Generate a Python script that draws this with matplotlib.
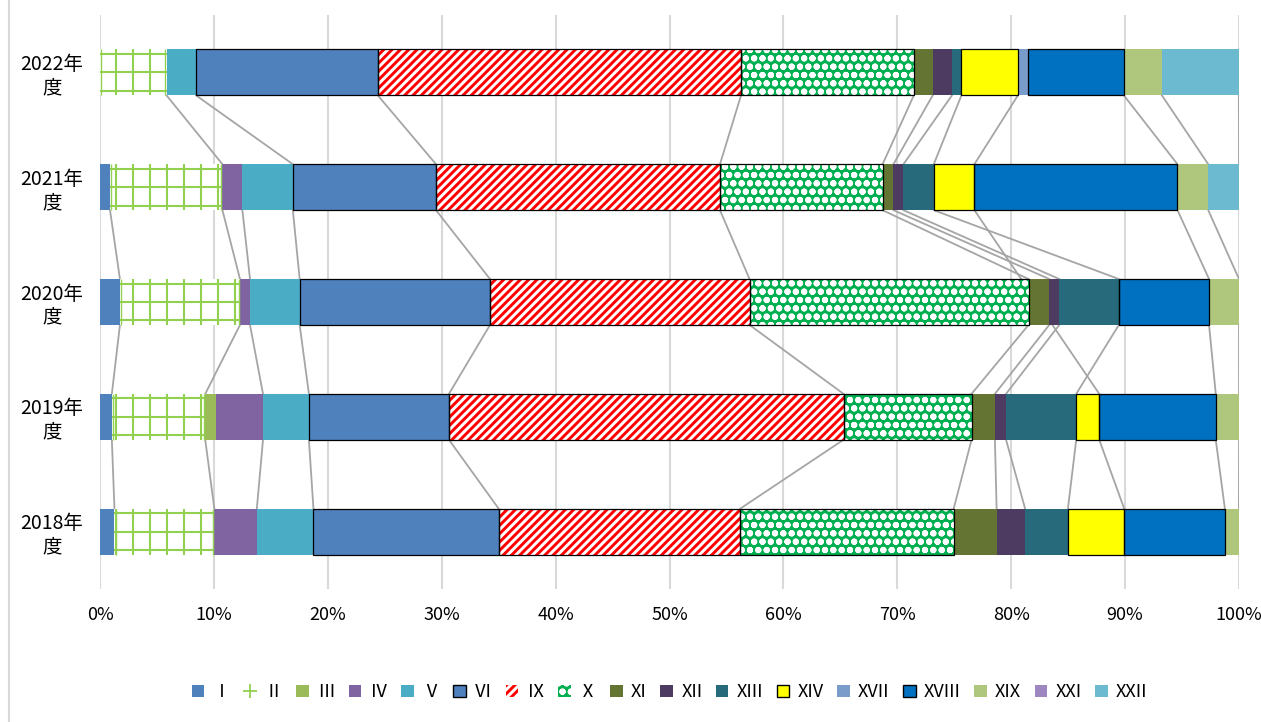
import matplotlib
matplotlib.use("Agg")
import matplotlib.pyplot as plt
from matplotlib.lines import Line2D
from matplotlib.patches import Patch
import numpy as np

plt.rcParams['font.family'] = ['Noto Sans CJK JP', 'DejaVu Sans']
plt.rcParams['hatch.linewidth'] = 2.1

# rows from bottom to top
years = ["2018年\n度", "2019年\n度", "2020年\n度", "2021年\n度", "2022年\n度"]

# shares in % per year (2018..2022), 0 = not present
s_I = [1.27, 1.04, 1.75, 0.88, 0]
s_II = [8.77, 8.20, 10.54, 9.87, 5.84]
s_III = [0, 0.97, 0, 0, 0]
s_IV = [3.73, 4.10, 0.88, 1.75, 0]
s_V = [4.97, 4.03, 4.36, 4.43, 2.59]
s_VI = [16.26, 12.30, 16.71, 12.57, 15.96]
s_IX = [21.21, 34.64, 22.79, 24.93, 31.89]
s_X = [18.74, 11.24, 24.49, 14.28, 15.17]
s_XI = [3.77, 2.05, 1.82, 0.95, 1.66]
s_XII = [2.50, 0.98, 0.88, 0.88, 1.69]
s_XIII = [3.76, 6.16, 5.23, 2.66, 0.83]
s_XIV = [4.94, 2.02, 0, 3.57, 4.96]
s_XVII = [0, 0, 0, 0, 0.92]
s_XVIII = [8.84, 10.23, 7.92, 17.83, 8.38]
s_XIX = [1.23, 2.05, 2.63, 2.70, 3.34]
s_XXI = [0, 0, 0, 0, 0]
s_XXII = [0, 0, 0, 2.70, 6.76]

labels = ["Ⅰ", "Ⅱ", "Ⅲ", "Ⅳ", "Ⅴ", "Ⅵ", "Ⅸ", "Ⅹ", "XI", "XII", "XIII",
          "XIV", "XVII", "XVIII", "XIX", "XXI", "XXII"]
series = [s_I, s_II, s_III, s_IV, s_V, s_VI, s_IX, s_X, s_XI, s_XII, s_XIII,
          s_XIV, s_XVII, s_XVIII, s_XIX, s_XXI, s_XXII]

# (face, hatch, hatch colour, black outline); "grid" = drawn green lattice
styles = [
    ("#4F81BD", None, None, False),
    ("white", "grid", "#92D050", False),
    ("#9BBB59", None, None, False),
    ("#8064A2", None, None, False),
    ("#4BACC6", None, None, False),
    ("#4F81BD", None, None, True),
    ("white", "////", "#FF0000", True),
    ("#00B050", "oo", "white", True),
    ("#647432", None, None, False),
    ("#4E3B62", None, None, False),
    ("#276A7C", None, None, False),
    ("#FFFF00", None, None, True),
    ("#7A9CCB", None, None, False),
    ("#0070C0", None, None, True),
    ("#AEC77C", None, None, False),
    ("#9E86C0", None, None, False),
    ("#6BBACF", None, None, False),
]

fig = plt.figure(figsize=(12.61, 7.22), dpi=100)
ax = fig.add_axes([100 / 1261, 1 - 589 / 722, 1139 / 1261, 574 / 722])

y = np.arange(len(years))
h = 0.40
left = np.zeros(len(years))
ends = []
handles = []
for vals, lab, (fc, hatch, hc, outline) in zip(series, labels, styles):
    vals = np.array(vals, dtype=float)
    if hatch == "grid":
        ax.barh(y, vals, left=left, height=h, color=fc, linewidth=0, zorder=3)
        # green lattice like the Excel pattern fill
        gx = np.arange(1.40, 100, 1.49)
        for yi, l0, v in zip(y, left, vals):
            if v <= 0:
                continue
            xs = gx[(gx >= l0) & (gx <= l0 + v)]
            ax.vlines(xs, yi - h / 2, yi + h / 2, color=hc, lw=1.5, zorder=3.2)
            ax.vlines([l0 + 0.1, l0 + v - 0.1], yi - h / 2, yi + h / 2,
                      color=hc, lw=1.0, zorder=3.2)
            ax.hlines([yi - 0.16, yi, yi + 0.16], l0, l0 + v, color=hc,
                      lw=1.5, zorder=3.2)
        handles.append(Line2D([], [], color=hc, marker="+", linestyle="none",
                              markersize=10, markeredgewidth=1.3))
    elif hatch:
        ax.barh(y, vals, left=left, height=h, color=fc, hatch=hatch,
                edgecolor=hc, linewidth=0, zorder=3)
        handles.append(Patch(facecolor=fc, hatch=hatch, edgecolor=hc,
                             linewidth=0))
    else:
        ax.barh(y, vals, left=left, height=h, color=fc, linewidth=0, zorder=3)
        handles.append(Patch(facecolor=fc, edgecolor="black" if outline else fc,
                             linewidth=1.0 if outline else 0))
    if outline:
        ax.barh(y, vals, left=left, height=h, color="none", edgecolor="black",
                linewidth=0.9, zorder=4)
    left = left + vals
    ends.append((left.copy(), vals > 0))

# series lines between consecutive rows that contain the series
for cum, present in ends:
    idx = np.where(present)[0]
    for i, j in zip(idx[:-1], idx[1:]):
        ax.plot([cum[i], cum[j]], [i + h / 2, j - h / 2], color="#A5A5A5",
                lw=1.3, zorder=2)

ax.set_xlim(0, 100)
ax.set_ylim(-0.5, len(years) - 0.5)
ax.set_xticks(np.arange(0, 101, 10))
ax.set_xticklabels([f"{v}%" for v in range(0, 101, 10)], fontsize=13)
ax.set_yticks(y)
ax.set_yticklabels(years, fontsize=14, multialignment="center",
                   linespacing=1.15)
ax.tick_params(axis="both", length=0)
ax.tick_params(axis="x", pad=12)
ax.tick_params(axis="y", pad=12)
for s in ax.spines.values():
    s.set_visible(False)
ax.xaxis.grid(True, color="#D9D9D9", lw=1.5, zorder=0)
ax.set_axisbelow(True)

leg = ax.legend(handles, labels, ncol=len(labels), loc="center",
                bbox_to_anchor=(0.5, -0.18), frameon=False, fontsize=13,
                handlelength=0.7, handleheight=0.7, handletextpad=0.45,
                columnspacing=0.75)

fig.add_artist(Line2D([9 / 1261, 9 / 1261], [0, 1], color="#D9D9D9", lw=1.5))

fig.savefig("out.png", dpi=100)
